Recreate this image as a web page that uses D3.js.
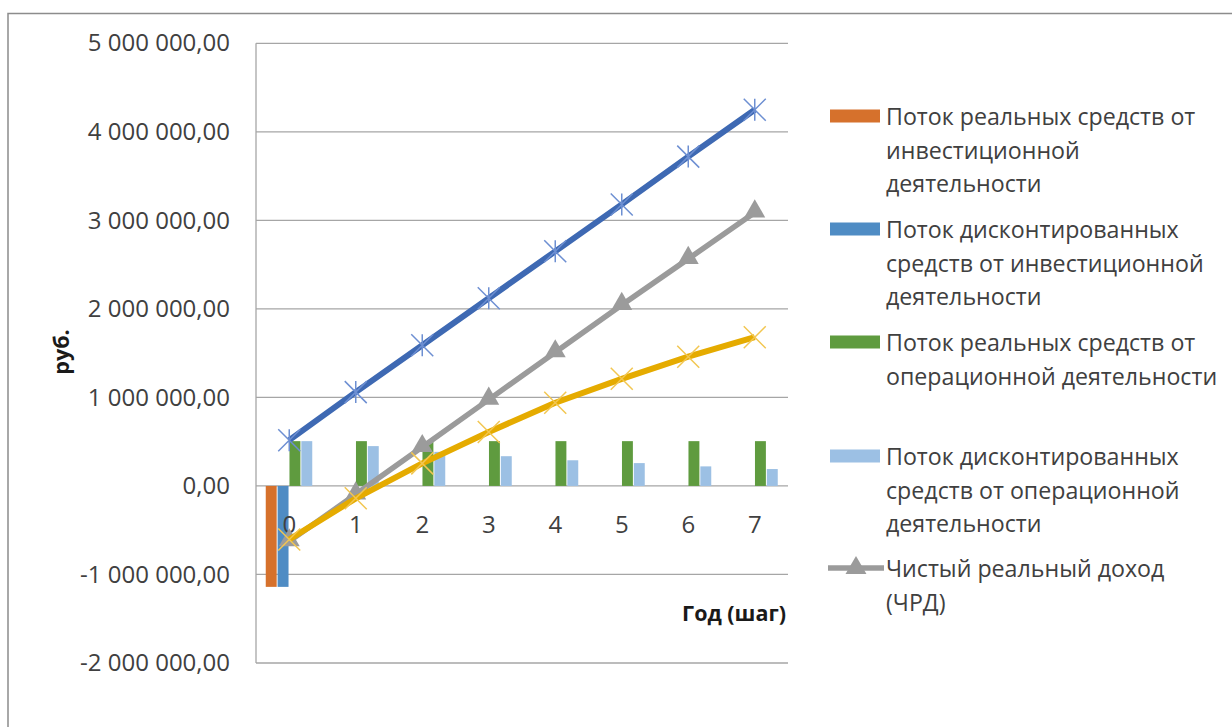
<!DOCTYPE html>
<html>
<head>
<meta charset="utf-8">
<script src="https://cdn.jsdelivr.net/npm/d3@7"></script>
<style>
  html, body { margin: 0; padding: 0; background: #fff; }
  svg { display: block; }
  svg text { font-family: "Open Sans", sans-serif; }
</style>
</head>
<body>
<svg id="chart" width="1232" height="727"></svg>
<script>
// Years (steps) of the project
const years = ["0", "1", "2", "3", "4", "5", "6", "7"];

// Bar series, rubles
const investReal       = [-1140000, 0, 0, 0, 0, 0, 0, 0];
const investDiscounted = [-1140000, 0, 0, 0, 0, 0, 0, 0];
const operReal         = [506000, 506000, 506000, 506000, 506000, 506000, 506000, 506000];
const operDiscounted   = [506000, 450000, 385000, 336000, 290000, 258000, 221000, 191000];

// Line series, rubles
const cumulativeInflow = [517000, 1060000, 1590000, 2120000, 2650000, 3180000, 3720000, 4250000];
const netRealIncome    = [-625000, -95000, 440000, 975000, 1510000, 2045000, 2565000, 3090000];
const netPresentValue  = [-605000, -140000, 255000, 610000, 940000, 1210000, 1460000, 1680000];

// Axis ticks
const yTicks = [-2000000, -1000000, 0, 1000000, 2000000, 3000000, 4000000, 5000000];

const barSeries = [
  { key: "investReal", values: investReal, color: "#d6712c" },
  { key: "investDiscounted", values: investDiscounted, color: "#4f8cc4" },
  { key: "operReal", values: operReal, color: "#5f9b3f" },
  { key: "operDiscounted", values: operDiscounted, color: "#9cc0e4" }
];

const legendItems = [
  { color: "#d6712c", type: "bar", lines: ["Поток реальных средств от", "инвестиционной", "деятельности"] },
  { color: "#4f8cc4", type: "bar", lines: ["Поток дисконтированных", "средств от инвестиционной", "деятельности"] },
  { color: "#5f9b3f", type: "bar", lines: ["Поток реальных средств от", "операционной деятельности"] },
  { color: "#9cc0e4", type: "bar", lines: ["Поток дисконтированных", "средств от операционной", "деятельности"] },
  { color: "#9b9b9b", type: "line", lines: ["Чистый реальный доход", "(ЧРД)"] }
];

const svg = d3.select("#chart");
const textColor = "#404040";
const gridColor = "#a6a6a6";
const tickFontSize = 24;
const legendFontSize = 23.2;
const titleFontSize = 21.5;
const fontFamily = "'Open Sans', sans-serif";

// Chart frame
svg.append("rect")
  .attr("x", 8).attr("y", 13.5)
  .attr("width", 1300).attr("height", 800)
  .attr("fill", "none").attr("stroke", "#8c8c8c").attr("stroke-width", 1.5);

const plot = { left: 256, right: 788, top: 43.3, bottom: 663 };

const x = d3.scaleBand().domain(years).range([plot.left, plot.right]);
const y = d3.scaleLinear().domain([-2000000, 5000000]).range([plot.bottom, plot.top]);
const xInner = d3.scaleBand().domain(barSeries.map(s => s.key))
  .range([-23.5, 23]).paddingInner(0.08);

const fmt = v => d3.format(",.2f")(v).replace(/,/g, " ").replace(".", ",").replace("−", "-");

// Gridlines
svg.append("g")
  .selectAll("line")
  .data(yTicks)
  .join("line")
  .attr("x1", plot.left).attr("x2", plot.right)
  .attr("y1", d => y(d)).attr("y2", d => y(d))
  .attr("stroke", gridColor).attr("stroke-width", 1.3);

// Vertical axis line
svg.append("line")
  .attr("x1", plot.left).attr("x2", plot.left)
  .attr("y1", plot.top).attr("y2", plot.bottom)
  .attr("stroke", gridColor).attr("stroke-width", 1.3);

// Y axis tick labels
const yAxis = d3.axisLeft(y).tickValues(yTicks).tickFormat(fmt).tickSize(0).tickPadding(26);
const gy = svg.append("g").attr("transform", `translate(${plot.left},0)`).call(yAxis)
  .attr("font-family", fontFamily).attr("font-size", tickFontSize);
gy.select(".domain").remove();
gy.selectAll("text").attr("fill", textColor);

// Bars
barSeries.forEach(s => {
  svg.append("g")
    .selectAll("rect")
    .data(s.values.map((v, i) => ({ v, year: years[i] })))
    .join("rect")
    .attr("x", d => x(d.year) + x.bandwidth() / 2 + xInner(s.key))
    .attr("width", xInner.bandwidth())
    .attr("y", d => y(Math.max(0, d.v)))
    .attr("height", d => Math.abs(y(d.v) - y(0)))
    .attr("fill", s.color);
});

// X axis tick labels
const xAxis = d3.axisBottom(x).tickSize(0).tickPadding(0);
const gx = svg.append("g").attr("transform", `translate(0,${y(0)})`).call(xAxis)
  .attr("font-family", fontFamily).attr("font-size", tickFontSize);
gx.select(".domain").remove();
gx.selectAll("text")
  .attr("fill", textColor)
  .attr("dy", null).attr("y", 38)
  .attr("dominant-baseline", "central");

const cx = d => x(d) + x.bandwidth() / 2;
const lineGen = d3.line().x((d, i) => cx(years[i])).y(d => y(d));

// Marker shapes
function asterisk(g, px, py, color) {
  const r = 11;
  g.append("path")
    .attr("d", `M${px - r},${py - r}L${px + r},${py + r}M${px - r},${py + r}L${px + r},${py - r}M${px},${py - r}L${px},${py + r}`)
    .attr("stroke", color).attr("stroke-width", 1.5).attr("fill", "none");
}
function cross(g, px, py, color) {
  const r = 11;
  g.append("path")
    .attr("d", `M${px - r},${py - r}L${px + r},${py + r}M${px - r},${py + r}L${px + r},${py - r}`)
    .attr("stroke", color).attr("stroke-width", 1.5).attr("fill", "none");
}
const triangle = d3.symbol().type(d3.symbolTriangle).size(190);

// Cumulative inflow line (blue, asterisk markers)
const gBlue = svg.append("g");
gBlue.append("path").datum(cumulativeInflow).attr("d", lineGen)
  .attr("fill", "none").attr("stroke", "#3e69b3").attr("stroke-width", 6)
  .attr("stroke-linejoin", "round");
cumulativeInflow.forEach((v, i) => asterisk(gBlue, cx(years[i]), y(v), "#6d8fd2"));

// Net real income line (gray, triangle markers)
const gGray = svg.append("g");
gGray.append("path").datum(netRealIncome).attr("d", lineGen)
  .attr("fill", "none").attr("stroke", "#9b9b9b").attr("stroke-width", 5.5)
  .attr("stroke-linejoin", "round");
gGray.selectAll("path.m").data(netRealIncome).join("path").attr("class", "m")
  .attr("d", triangle)
  .attr("transform", (d, i) => `translate(${cx(years[i])},${y(d) - 1})`)
  .attr("fill", "#9b9b9b");

// Net present value line (yellow, cross markers)
const gYellow = svg.append("g");
gYellow.append("path").datum(netPresentValue).attr("d", lineGen)
  .attr("fill", "none").attr("stroke", "#e5ab00").attr("stroke-width", 6)
  .attr("stroke-linejoin", "round");
netPresentValue.forEach((v, i) => cross(gYellow, cx(years[i]), y(v), "#f2c650"));

// Axis titles
svg.append("text")
  .attr("transform", "translate(60,352) rotate(-90)")
  .attr("text-anchor", "middle").attr("dominant-baseline", "central")
  .attr("font-size", titleFontSize).attr("font-weight", "bold").attr("fill", "#1a1a1a")
  .text("руб.");

svg.append("text")
  .attr("x", 786).attr("y", 612)
  .attr("text-anchor", "end").attr("dominant-baseline", "central")
  .attr("font-size", titleFontSize).attr("font-weight", "bold").attr("fill", "#1a1a1a")
  .text("Год (шаг)");

// Legend
const legendTop = [116, 229, 342, 456, 568];
const lineStep = 33.5;
const legend = svg.append("g");
legendItems.forEach((item, k) => {
  const yy = legendTop[k];
  if (item.type === "bar") {
    legend.append("rect")
      .attr("x", 830).attr("y", yy - 6.5).attr("width", 50).attr("height", 13)
      .attr("fill", item.color);
  } else {
    legend.append("line")
      .attr("x1", 828).attr("x2", 884).attr("y1", yy).attr("y2", yy)
      .attr("stroke", item.color).attr("stroke-width", 5.5);
    legend.append("path").attr("d", triangle)
      .attr("transform", `translate(856,${yy})`).attr("fill", item.color);
  }
  item.lines.forEach((t, j) => {
    legend.append("text")
      .attr("x", 886).attr("y", yy + j * lineStep)
      .attr("dominant-baseline", "central")
      .attr("font-size", legendFontSize).attr("fill", textColor)
      .text(t);
  });
});
</script>
</body>
</html>
